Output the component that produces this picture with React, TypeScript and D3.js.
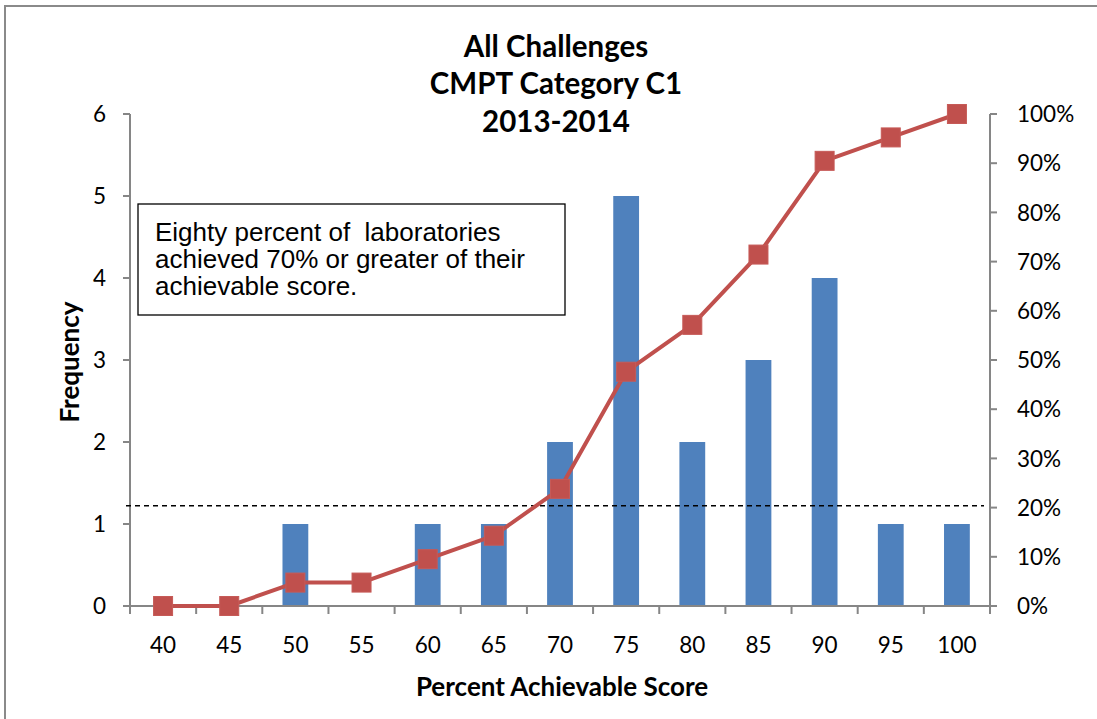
import React from "react";
import * as d3 from "d3";

const categories = ["40", "45", "50", "55", "60", "65", "70", "75", "80", "85", "90", "95", "100"];
const frequency = [0, 0, 1, 0, 1, 1, 2, 5, 2, 3, 4, 1, 1];
const cumulativePct = [0, 0, 0.0476, 0.0476, 0.0952, 0.1429, 0.2381, 0.4762, 0.5714, 0.7143, 0.9048, 0.9524, 1.0];
const leftTicks = [0, 1, 2, 3, 4, 5, 6];
const rightTicks = [0, 0.1, 0.2, 0.3, 0.4, 0.5, 0.6, 0.7, 0.8, 0.9, 1.0];
const thresholdPct = 0.204;
const titleLines = ["All Challenges", "CMPT Category C1", "2013-2014"];
const noteLines = ["Eighty percent of  laboratories", "achieved 70% or greater of their", "achievable score."];

const W = 1097;
const H = 719;
const plot = { left: 130, right: 990, top: 114, bottom: 606 };

const CAL = "Lato, 'Open Sans', sans-serif";
const ARIAL = "'Liberation Sans', Arial, sans-serif";

export default function App() {
  const x = d3.scaleBand<string>().domain(categories).range([plot.left, plot.right]).paddingInner(0).paddingOuter(0);
  const yL = d3.scaleLinear().domain([0, 6]).range([plot.bottom, plot.top]);
  const yR = d3.scaleLinear().domain([0, 1]).range([plot.bottom, plot.top]);
  const bw = x.bandwidth() * 0.39;
  const cx = (c: string) => (x(c) ?? 0) + x.bandwidth() / 2;

  const linePath = d3
    .line<number>()
    .x((_, i) => cx(categories[i]))
    .y((d) => yR(d))(cumulativePct);

  const axisColor = "#868686";
  const tickEdges = categories.map((c) => x(c) ?? 0).concat([plot.right]);
  const ms = 19;

  return (
    <svg width={W} height={H} style={{ position: "absolute", left: 0, top: 0, background: "#fff" }}>
      <rect x={5} y={6} width={W + 10} height={H + 10} fill="#fff" stroke="#8a8a8a" strokeWidth={2} />

      {/* title */}
      {titleLines.map((t, i) => (
        <text key={t} x={556} y={56.5 + i * 37.8} textAnchor="middle" fontFamily={CAL} fontWeight={700} fontSize={29.5} fill="#000">
          {t}
        </text>
      ))}

      {/* bars */}
      {frequency.map((v, i) => (
        <rect
          key={categories[i]}
          x={cx(categories[i]) - bw / 2}
          y={yL(v)}
          width={bw}
          height={yL(0) - yL(v)}
          fill="#4F81BD"
        />
      ))}

      {/* axes */}
      <line x1={plot.left} x2={plot.left} y1={plot.top} y2={plot.bottom} stroke={axisColor} strokeWidth={2} />
      <line x1={plot.right} x2={plot.right} y1={plot.top} y2={plot.bottom} stroke={axisColor} strokeWidth={2} />
      <line x1={plot.left - 7} x2={plot.right + 7} y1={plot.bottom} y2={plot.bottom} stroke={axisColor} strokeWidth={2} />
      {leftTicks.map((t) => (
        <g key={"l" + t}>
          <line x1={plot.left - 7} x2={plot.left} y1={yL(t)} y2={yL(t)} stroke={axisColor} strokeWidth={2} />
          <text x={106} y={yL(t)} dy="0.36em" textAnchor="end" fontFamily={CAL} fontSize={22.5} fill="#000">
            {t}
          </text>
        </g>
      ))}
      {rightTicks.map((t) => (
        <g key={"r" + t}>
          <line x1={plot.right} x2={plot.right + 7} y1={yR(t)} y2={yR(t)} stroke={axisColor} strokeWidth={2} />
          <text x={1017} y={yR(t)} dy="0.36em" textAnchor="start" fontFamily={CAL} fontSize={22.5} fill="#000">
            {d3.format(".0%")(t)}
          </text>
        </g>
      ))}
      {tickEdges.map((e, i) => (
        <line key={"x" + i} x1={e} x2={e} y1={plot.bottom} y2={plot.bottom + 8} stroke={axisColor} strokeWidth={2} />
      ))}
      {categories.map((c) => (
        <text key={"xl" + c} x={cx(c)} y={653} textAnchor="middle" fontFamily={CAL} fontSize={22.5} fill="#000">
          {c}
        </text>
      ))}

      {/* threshold dashed line */}
      <line x1={126} x2={984} y1={yR(thresholdPct)} y2={yR(thresholdPct)} stroke="#000" strokeWidth={1.5} strokeDasharray="5,4" />

      {/* cumulative line */}
      <path d={linePath ?? ""} fill="none" stroke="#C0504D" strokeWidth={4} strokeLinejoin="round" />
      {cumulativePct.map((v, i) => (
        <rect
          key={"m" + i}
          x={cx(categories[i]) - ms / 2}
          y={yR(v) - ms / 2}
          width={ms}
          height={ms}
          fill="#C0504D"
          stroke="#C65A57"
          strokeWidth={1}
        />
      ))}

      {/* annotation */}
      <rect x={138} y={204} width={427} height={111} fill="#fff" stroke="#000" strokeWidth={1.3} />
      {noteLines.map((t, i) => (
        <text key={t} x={155} y={240.5 + i * 27.3} fontFamily={ARIAL} fontSize={26} fill="#000" style={{ whiteSpace: "pre" }}>
          {t}
        </text>
      ))}

      {/* axis titles */}
      <text x={562} y={696} textAnchor="middle" fontFamily={CAL} fontWeight={700} fontSize={26} fill="#000">
        Percent Achievable Score
      </text>
      <text
        transform="translate(79,362) rotate(-90)"
        textAnchor="middle"
        fontFamily={CAL}
        fontWeight={700}
        fontSize={26}
        fill="#000"
      >
        Frequency
      </text>
    </svg>
  );
}
